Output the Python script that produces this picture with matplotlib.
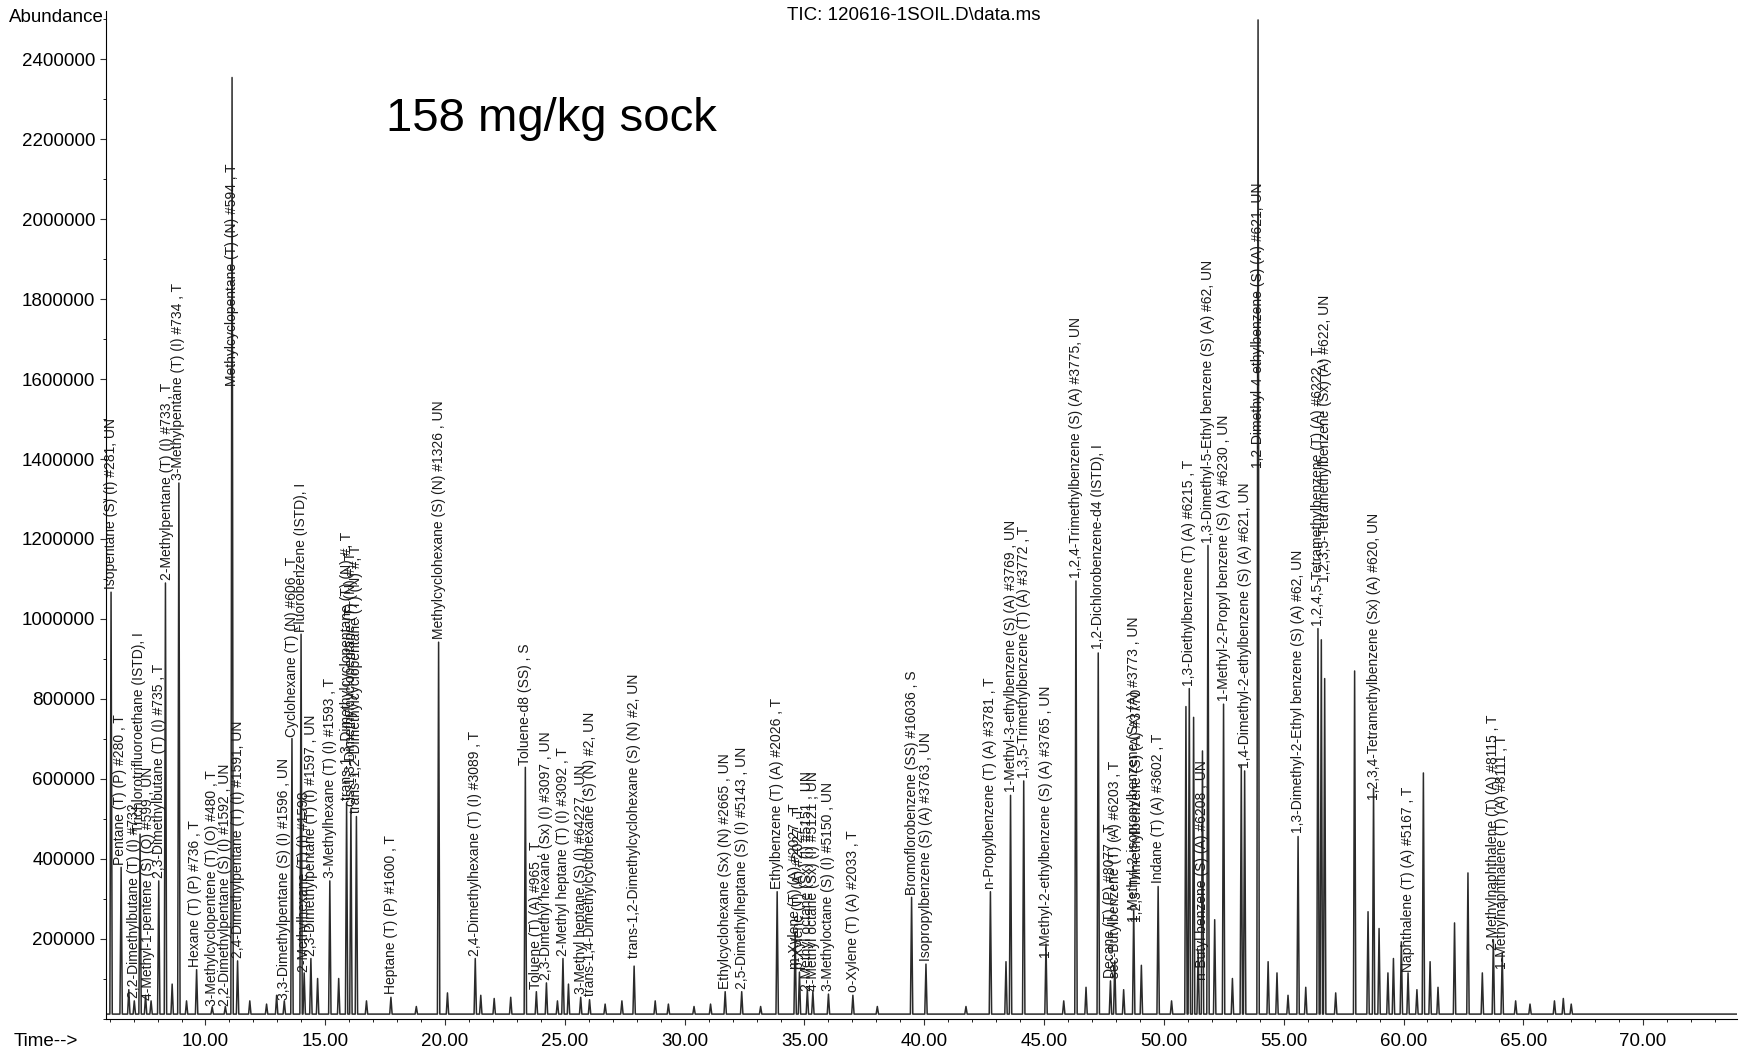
import matplotlib
matplotlib.use("Agg")
import matplotlib.pyplot as plt
from matplotlib.ticker import MultipleLocator, FormatStrFormatter
import numpy as np

# Picos del cromatograma (tiempo de retención en min, abundancia)
tiempos = [6.06, 6.48, 6.80, 7.03, 7.27, 7.50, 7.73, 8.05, 8.33, 8.61, 8.89, 9.21, 9.63,
           10.28, 10.83, 11.11, 11.34, 11.85, 12.55, 12.97, 13.29, 13.61, 13.99, 14.12, 14.40,
           14.68, 15.19, 15.56, 15.89, 16.07, 16.30, 16.72, 17.74, 18.80, 19.73, 20.10, 21.26,
           21.49, 22.05, 22.74, 23.35, 23.81, 24.23, 24.69, 24.92, 25.15, 25.66, 26.03, 26.68,
           27.38, 27.89, 28.77, 29.32, 30.39, 31.08, 31.69, 32.38, 33.17, 33.86, 34.61, 34.79,
           35.12, 35.35, 36.00, 37.02, 38.04, 39.47, 40.07, 41.74, 42.76, 43.41, 43.60, 44.15,
           45.08, 45.82, 46.33, 46.75, 47.26, 47.77, 47.95, 48.32, 48.74, 49.06, 49.76, 50.32,
           50.92, 51.06, 51.24, 51.43, 51.61, 51.84, 52.12, 52.49, 52.86, 53.23, 53.37, 53.93,
           54.35, 54.72, 55.18, 55.60, 55.92, 56.43, 56.57, 56.71, 57.17, 57.96, 58.52, 58.75,
           58.98, 59.35, 59.58, 59.91, 60.19, 60.56, 60.83, 61.11, 61.44, 62.13, 62.69, 63.29,
           63.75, 64.12, 64.68, 65.28, 66.30, 66.67, 67.00]
abundancias = [1055000, 367000, 61000, 33000, 450000, 47000, 33000, 333000, 1078000, 75000, 1328000, 33000, 111000,
               18000, 19000, 2342000, 133000, 33000, 25000, 47000, 33000, 689000, 950000, 103000, 139000,
               89000, 333000, 89000, 528000, 514000, 494000, 33000, 42000, 19000, 930000, 53000, 139000,
               47000, 39000, 42000, 617000, 56000, 78000, 33000, 139000, 75000, 42000, 36000, 25000,
               33000, 120000, 33000, 25000, 19000, 25000, 56000, 56000, 19000, 306000, 206000, 105000,
               61000, 56000, 50000, 47000, 19000, 292000, 125000, 19000, 306000, 131000, 547000, 583000,
               175000, 33000, 1083000, 67000, 903000, 83000, 133000, 61000, 260000, 122000, 319000, 33000,
               769000, 814000, 742000, 158000, 658000, 1172000, 236000, 775000, 89000, 622000, 608000, 2486000,
               131000, 103000, 47000, 444000, 67000, 964000, 936000, 839000, 53000, 858000, 256000, 564000,
               214000, 103000, 139000, 181000, 103000, 61000, 603000, 131000, 67000, 228000, 353000, 103000,
               186000, 153000, 33000, 25000, 33000, 39000, 25000]

# Etiquetas de compuestos (tiempo, abundancia donde empieza el texto, nombre)
etiq_t = [6.06, 6.44, 7.00, 7.23, 7.59, 8.05, 8.38, 8.84, 9.58, 10.28, 10.83, 11.34, 11.11,
          13.29, 13.61, 13.99, 14.12, 14.40, 15.19, 15.89, 16.07, 16.30, 17.74, 19.73, 21.26,
          23.35, 23.81, 24.23, 24.92, 25.66, 26.03, 27.89, 31.69, 32.38, 33.86, 34.61, 34.79,
          35.12, 35.35, 36.00, 37.02, 39.47, 40.07, 42.76, 43.60, 44.15, 45.08, 46.33, 47.26,
          47.77, 47.95, 48.74, 48.88, 49.76, 51.06, 51.61, 51.84, 52.49, 53.37, 53.93, 55.60,
          56.43, 56.71, 58.75, 60.19, 63.75, 64.12]
etiq_y = [1075000, 386000, 53000, 467000, 47000, 353000, 1097000, 1347000, 131000, 33000, 33000, 153000, 1583000,
          47000, 706000, 967000, 117000, 158000, 353000, 547000, 533000, 514000, 61000, 950000, 158000,
          636000, 75000, 97000, 158000, 61000, 56000, 153000, 75000, 75000, 325000, 125000, 125000,
          69000, 69000, 69000, 67000, 311000, 144000, 325000, 567000, 603000, 153000, 1103000, 925000,
          103000, 103000, 242000, 242000, 339000, 833000, 97000, 1189000, 794000, 628000, 1378000, 464000,
          983000, 1092000, 547000, 117000, 172000, 125000]
etiq_txt = ["Isopentane (S) (I) #281, UN", "Pentane (T) (P) #280 , T", "2,2-Dimethylbutane (T) (I) #732",
            "Trichlorotrifluoroethane (ISTD), I", "4-Methyl-1-pentene (S) (Q) #599 , UN",
            "2,3-Dimethylbutane (T) (I) #735 , T", "2-Methylpentane (T) (I) #733 , T",
            "3-Methylpentane (T) (I) #734 , T", "Hexane (T) (P) #736 , T",
            "3-Methylcyclopentene (T) (O) #480 , T", "2,2-Dimethylpentane (S) (I) #1592 , UN",
            "2,4-Dimethylpentane (T) (I) #1591, UN", "Methylcyclopentane (T) (N) #594 , T",
            "3,3-Dimethylpentane (S) (I) #1596 , UN", "Cyclohexane (T) (N) #606 , T",
            "Fluorobenzene (ISTD), I", "2-Methylhexane (T) (I) #1598", "2,3-Dimethylpentane (T) (I) #1597 , UN",
            "3-Methylhexane (T) (I) #1593 , T", "trans-1,3-Dimethylcyclopentane (T) (N) #, T",
            "cis-1,3-Dimethylcyclopentane (T) (N) #, T", "trans-1,2-Dimethylcyclopentane (T) (N) #, T",
            "Heptane (T) (P) #1600 , T", "Methylcyclohexane (S) (N) #1326 , UN",
            "2,4-Dimethylhexane (T) (I) #3089 , T", "Toluene-d8 (SS) , S", "Toluene (T) (A) #965 , T",
            "2,3-Dimethyl hexane (Sx) (I) #3097 , UN", "2-Methyl heptane (T) (I) #3092 , T",
            "3-Methyl heptane (S) (I) #64227 , UN", "trans-1,4-Dimethylcyclohexane (S) (N) #2, UN",
            "trans-1,2-Dimethylcyclohexane (S) (N) #2, UN", "Ethylcyclohexane (Sx) (N) #2665 , UN",
            "2,5-Dimethylheptane (S) (I) #5143 , UN", "Ethylbenzene (T) (A) #2026 , T",
            "m-Xylene (T) (A) #2027 , T", "p-Xylene (T) (A) #2027 , T",
            "2-Methyl octane (Sx) (I) #5151 , UN", "4-Methyl octane (Sx) (I) #5121 , UN",
            "3-Methyloctane (S) (I) #5150 , UN", "o-Xylene (T) (A) #2033 , T",
            "Bromoflorobenzene (SS) #16036 , S", "Isopropylbenzene (S) (A) #3763 , UN",
            "n-Propylbenzene (T) (A) #3781 , T", "1-Methyl-3-ethylbenzene (S) (A) #3769 , UN",
            "1,3,5-Trimethylbenzene (T) (A) #3772 , T", "1-Methyl-2-ethylbenzene (S) (A) #3765 , UN",
            "1,2,4-Trimethylbenzene (S) (A) #3775, UN", "1,2-Dichlorobenzene-d4 (ISTD), I",
            "Decane (T) (P) #8077 , T", "sec-Butylbenzene (T) (A) #6203 , T",
            "1-Methyl-2-isopropylbenzene (Sx) (A) #3773 , UN", "1,2,3-Trimethylbenzene (S) (A) #3770",
            "Indane (T) (A) #3602 , T", "1,3-Diethylbenzene (T) (A) #6215 , T",
            "n-Butyl benzene (S) (A) #6208 , UN", "1,3-Dimethyl-5-Ethyl benzene (S) (A) #62, UN",
            "1-Methyl-2-Propyl benzene (S) (A) #6230 , UN", "1,4-Dimethyl-2-ethylbenzene (S) (A) #621, UN",
            "1,2-Dimethyl-4-ethylbenzene (S) (A) #621, UN", "1,3-Dimethyl-2-Ethyl benzene (S) (A) #62, UN",
            "1,2,4,5-Tetramethylbenzene (T) (A) #6222 , T", "1,2,3,5-Tetramethylbenzene (Sx) (A) #622, UN",
            "1,2,3,4-Tetramethylbenzene (Sx) (A) #620, UN", "Naphthalene (T) (A) #5167 , T",
            "2-Methylnaphthalene (T) (A) #8115 , T", "1-Methylnaphthalene (T) (A) #8111 , T"]

linea_base = 12000
ancho = 0.05

# medidas de la referencia (pixeles vistos a escala 0.9)
W, H = 1567.0, 945.0

fuente = ['Liberation Sans Narrow', 'Liberation Sans', 'DejaVu Sans']
plt.rcParams['font.family'] = ['Liberation Sans', 'DejaVu Sans']

fig = plt.figure(figsize=(17.41, 10.5), dpi=100)
ax = fig.add_axes([95 / W, 1 - 917 / H, (1563 - 95) / W, (917 - 10) / H])

# Traza: cada pico como un triángulo estrecho sobre la línea base
orden = np.argsort(tiempos)
xs = [5.83]
ys = [linea_base]
for i in orden:
    t = tiempos[i]
    xs += [t - ancho, t, t + ancho]
    ys += [linea_base, linea_base + abundancias[i], linea_base]
xs.append(73.9)
ys.append(linea_base)
ax.plot(xs, ys, color='#2b2b2b', lw=1.1)

for t, y, txt in zip(etiq_t, etiq_y, etiq_txt):
    ax.text(t, y, txt, rotation=90, ha='center', va='bottom', fontsize=10,
            family=fuente, color='#1a1a1a')

ax.set_xlim(5.83, 73.9)
ax.set_ylim(0, 2520000)
ax.spines['top'].set_visible(False)
ax.spines['right'].set_visible(False)
ax.xaxis.set_major_formatter(FormatStrFormatter('%.2f'))
ax.xaxis.set_minor_locator(MultipleLocator(1))
ax.set_xticks(np.arange(10, 71, 5))
ax.set_yticks(np.arange(200000, 2400001, 200000))
ax.yaxis.set_minor_locator(MultipleLocator(100000))
ax.yaxis.set_major_formatter(FormatStrFormatter('%d'))
ax.tick_params(axis='both', labelsize=13.5, length=4, color='#333333')
ax.tick_params(axis='x', pad=6)
ax.tick_params(which='minor', length=2)

fig.text(8 / W, 1 - 16 / H, "Abundance", fontsize=13.5, va='center', ha='left')
fig.text(12 / W, 1 - 937 / H, "Time-->", fontsize=13.5, va='center', ha='left')
fig.text(822 / W, 1 - 14 / H, "TIC: 120616-1SOIL.D\\data.ms", fontsize=13.5, va='center', ha='center')
fig.text(347 / W, 1 - 107 / H, "158 mg/kg sock", fontsize=34, va='center', ha='left')

fig.savefig("out.png", dpi=100)
